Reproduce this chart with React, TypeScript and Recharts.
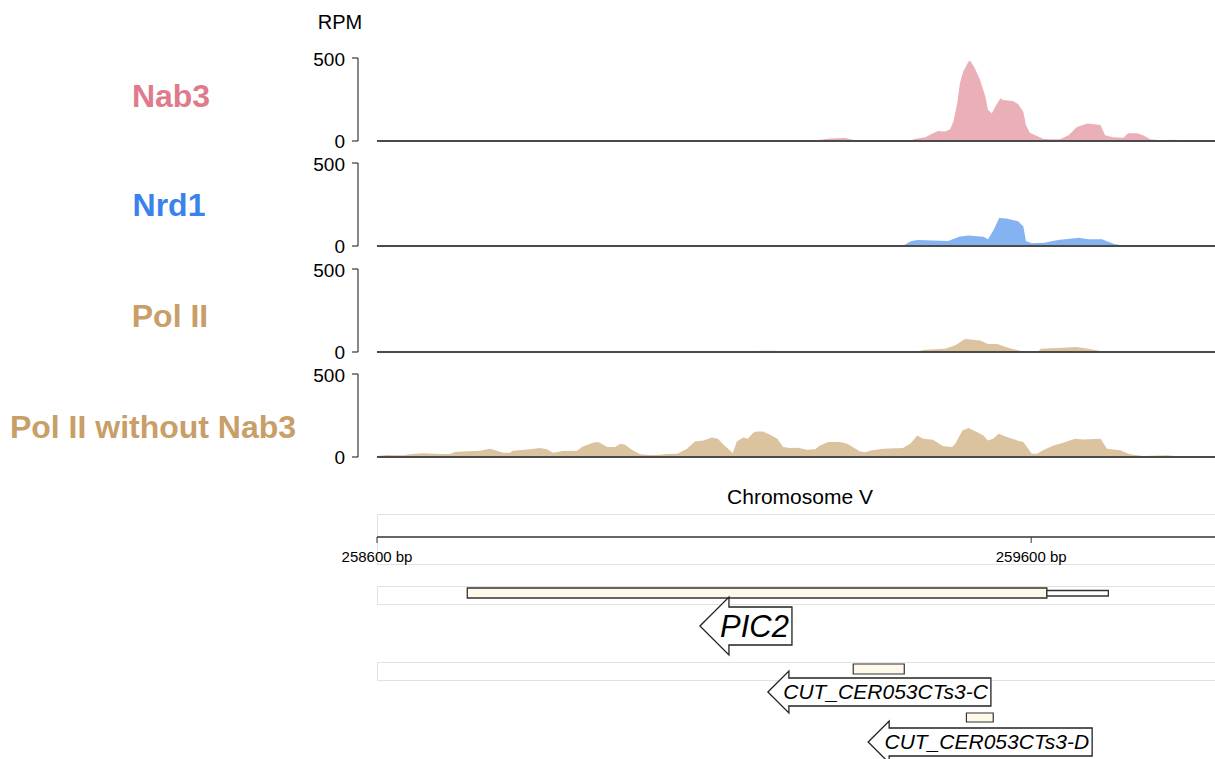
import React from "react";
import {
  AreaChart, Area, ComposedChart, XAxis, YAxis, ReferenceLine, ReferenceArea, ReferenceDot,
} from "recharts";

// genomic window (bp) and coverage tracks: [position, RPM]
const VIEW_START = 258600;
const VIEW_END = 259881;
const AXIS_PAD = 29; // bp of empty room between the y axis and the first base

const NAB3: [number, number][] = [
  [258600, 0], [259262, 0], [259293, 15], [259316, 18], [259331, 5], [259346, 0], [259415, 0],
  [259420, 10], [259438, 22], [259450, 46], [259458, 60], [259468, 57], [259476, 70], [259481, 116],
  [259487, 227], [259491, 347], [259496, 417], [259504, 477], [259507, 483], [259514, 437],
  [259522, 367], [259530, 267], [259534, 187], [259540, 167], [259545, 206], [259553, 257],
  [259557, 247], [259572, 241], [259580, 223], [259588, 176], [259592, 96], [259598, 50],
  [259609, 30], [259618, 14], [259629, 10], [259644, 10], [259657, 35], [259670, 84], [259686, 105],
  [259706, 96], [259713, 35], [259725, 22], [259741, 20], [259748, 46], [259762, 46], [259771, 35],
  [259782, 10], [259797, 5], [259817, 8], [259835, 5], [259881, 5],
];

const NRD1: [number, number][] = [
  [258600, 0], [259377, 0], [259384, 5], [259406, 6], [259417, 30], [259427, 36], [259473, 30],
  [259490, 56], [259504, 64], [259527, 56], [259534, 40], [259543, 100], [259551, 169],
  [259562, 165], [259580, 149], [259588, 119], [259592, 30], [259601, 16], [259620, 20],
  [259641, 36], [259673, 50], [259687, 40], [259708, 40], [259727, 12], [259741, 3], [259751, 0],
  [259828, 0], [259840, 3], [259852, 0], [259881, 0],
];

const POL2: [number, number][] = [
  [258600, 0], [259062, 0], [259079, 3], [259109, 3], [259115, 0], [259173, 0], [259186, 8],
  [259209, 8], [259216, 0], [259374, 0], [259384, 3], [259423, 3], [259438, 14], [259468, 20],
  [259484, 40], [259499, 78], [259522, 70], [259534, 48], [259548, 48], [259566, 24], [259586, 5],
  [259611, 5], [259615, 20], [259641, 24], [259669, 30], [259687, 20], [259704, 8], [259708, 0],
  [259881, 0],
];

const POL2_NO_NAB3: [number, number][] = [
  [258600, 6], [258615, 12], [258640, 10], [258650, 16], [258670, 22], [258696, 18], [258712, 18],
  [258719, 30], [258738, 34], [258757, 38], [258773, 50], [258783, 38], [258793, 26], [258803, 26],
  [258808, 38], [258834, 46], [258849, 54], [258860, 46], [258869, 26], [258884, 36], [258906, 38],
  [258913, 60], [258930, 86], [258938, 90], [258946, 74], [258952, 60], [258964, 60], [258972, 80],
  [258979, 74], [258991, 40], [259002, 16], [259017, 12], [259033, 14], [259043, 18], [259059, 20],
  [259074, 50], [259086, 94], [259099, 100], [259112, 118], [259121, 110], [259132, 66],
  [259144, 24], [259150, 94], [259160, 118], [259167, 110], [259175, 146], [259181, 154],
  [259190, 154], [259201, 134], [259212, 110], [259221, 60], [259231, 54], [259244, 56],
  [259257, 44], [259270, 46], [259277, 70], [259290, 90], [259308, 90], [259319, 80], [259338, 34],
  [259346, 28], [259357, 40], [259374, 50], [259404, 54], [259415, 80], [259426, 130], [259435, 110],
  [259450, 104], [259465, 66], [259479, 60], [259484, 80], [259495, 160], [259504, 174],
  [259517, 150], [259527, 130], [259534, 100], [259542, 110], [259550, 140], [259563, 120],
  [259579, 100], [259588, 90], [259601, 20], [259609, 20], [259618, 40], [259634, 70], [259649, 86],
  [259667, 110], [259680, 106], [259706, 110], [259716, 50], [259736, 40], [259751, 16],
  [259771, 6], [259808, 10], [259832, 2], [259881, 2],
];

const RPM_TICKS = [0, 500];
const BP_TICKS = [258600, 259600];

// gene models: [name, start, end]
const PIC2_CDS: [string, number, number] = ["PIC2", 258738, 259624];
const PIC2_UTR: [string, number, number] = ["PIC2", 259624, 259718];
const CUTS: [string, number, number][] = [
  ["CUT_CER053CTs3-C", 259328, 259406],
  ["CUT_CER053CTs3-D", 259501, 259542],
];
// where each gene's name tag sits along the chromosome
const TAG_AT: Record<string, number> = {
  PIC2: 259164,
  "CUT_CER053CTs3-C": 259368,
  "CUT_CER053CTs3-D": 259522,
};

const FONT = "'Liberation Sans', Arial, Helvetica, sans-serif";

const TRACKS = [
  { name: "Nab3", rows: NAB3, fill: "#ebb0b7", text: "#e07b8b", top: 58, labelX: 171, labelY: 96 },
  { name: "Nrd1", rows: NRD1, fill: "#85b3f1", text: "#3a82ec", top: 163, labelX: 169, labelY: 205 },
  { name: "Pol II", rows: POL2, fill: "#dcc3a0", text: "#c89e69", top: 269, labelX: 170, labelY: 316 },
  { name: "Pol II without Nab3", rows: POL2_NO_NAB3, fill: "#dcc3a0", text: "#c89e69", top: 374, labelX: 153, labelY: 427 },
];

const TAG_STYLE: Record<string, { width: number; head: number; boxH: number; headH: number; size: number; row: number }> = {
  PIC2: { width: 92, head: 29, boxH: 38, headH: 58, size: 31, row: 46 },
  "CUT_CER053CTs3-C": { width: 223, head: 21, boxH: 28, headH: 42, size: 21, row: 112 },
  "CUT_CER053CTs3-D": { width: 224, head: 21, boxH: 28, headH: 42, size: 21, row: 162 },
};

function GeneTag({ cx, cy, name }: { cx: number; cy: number; name: string }) {
  const s = TAG_STYLE[name];
  const tip = cx - s.width / 2;
  const right = cx + s.width / 2;
  const hx = tip + s.head;
  const pts = [
    [tip, cy], [hx, cy - s.headH / 2], [hx, cy - s.boxH / 2], [right, cy - s.boxH / 2],
    [right, cy + s.boxH / 2], [hx, cy + s.boxH / 2], [hx, cy + s.headH / 2],
  ].map((p) => p.join(",")).join(" ");
  return (
    <g>
      <polygon points={pts} fill="#fff" stroke="#222" strokeWidth={1.3} />
      <text x={right - 3} y={cy} dy="0.35em" textAnchor="end" fontStyle="italic"
        fontSize={s.size} fontFamily={FONT} fill="#000">{name}</text>
    </g>
  );
}

const frame = (top: number, height: number): React.CSSProperties => ({
  position: "absolute", left: 377, top, width: 850, height,
  border: "1px solid #e2e2e2", boxSizing: "border-box",
});

export default function App() {
  return (
    <div style={{ position: "absolute", left: 0, top: 0, width: 1215, height: 759, overflow: "hidden", background: "#fff", fontFamily: FONT }}>
      <div style={{ position: "absolute", left: 340, top: 22, transform: "translate(-50%,-50%)", fontSize: 20 }}>RPM</div>

      {TRACKS.map((t) => (
        <React.Fragment key={t.name}>
          <div style={{
            position: "absolute", left: t.labelX, top: t.labelY, transform: "translate(-50%,-50%)",
            fontSize: 32, fontWeight: 700, color: t.text, whiteSpace: "nowrap",
          }}>{t.name}</div>
          <div style={{ position: "absolute", left: 0, top: t.top - 10 }}>
            <AreaChart width={1215} height={105} data={t.rows.map(([pos, rpm]) => ({ pos, rpm }))}
              margin={{ top: 10, right: 0, bottom: 12, left: 300 }}>
              <XAxis dataKey="pos" type="number" domain={[VIEW_START - AXIS_PAD, VIEW_END]} hide allowDataOverflow />
              <YAxis type="number" domain={[0, 500]} ticks={RPM_TICKS} width={58} tickSize={6} tickMargin={7}
                axisLine={{ stroke: "#111" }} tickLine={{ stroke: "#111" }} allowDataOverflow
                tick={{ fontSize: 19, fill: "#000", fontFamily: FONT }} />
              <Area type="linear" dataKey="rpm" stroke="none" fill={t.fill} fillOpacity={1}
                isAnimationActive={false} dot={false} activeDot={false} />
              <ReferenceLine segment={[{ x: VIEW_START, y: 0 }, { x: VIEW_END, y: 0 }]} stroke="#4a4a4a" strokeWidth={2} />
            </AreaChart>
          </div>
        </React.Fragment>
      ))}

      <div style={{ position: "absolute", left: 800, top: 497, transform: "translate(-50%,-50%)", fontSize: 21 }}>Chromosome V</div>
      <div style={frame(514, 51)} />
      <div style={frame(586, 19)} />
      <div style={frame(662, 19)} />

      <div style={{ position: "absolute", left: 0, top: 514 }}>
        <ComposedChart width={1215} height={53} data={BP_TICKS.map((pos) => ({ pos }))}
          margin={{ top: 10, right: 0, bottom: 0, left: 377 }}>
          <XAxis dataKey="pos" type="number" domain={[VIEW_START, VIEW_END]} ticks={BP_TICKS} height={30}
            tickFormatter={(v: number) => `${v} bp`} tickSize={6} tickMargin={8} interval={0}
            axisLine={{ stroke: "#333", strokeWidth: 1.5 }} tickLine={{ stroke: "#333" }}
            tick={{ fontSize: 15, fill: "#000", fontFamily: FONT }} allowDataOverflow />
          <YAxis hide domain={[0, 1]} />
        </ComposedChart>
      </div>

      <div style={{ position: "absolute", left: 0, top: 580 }}>
        <ComposedChart width={1215} height={179} data={[PIC2_CDS, ...CUTS].map(([name, start]) => ({ name, pos: start }))}
          margin={{ top: 0, right: 0, bottom: 0, left: 377 }}>
          <XAxis dataKey="pos" type="number" domain={[VIEW_START, VIEW_END]} hide allowDataOverflow />
          <YAxis hide reversed type="number" domain={[0, 179]} allowDataOverflow />
          <ReferenceArea x1={PIC2_CDS[1]} x2={PIC2_CDS[2]} y1={8} y2={18} fill="#fff9e9" fillOpacity={1}
            stroke="#333" strokeWidth={1.3} ifOverflow="visible" />
          <ReferenceArea x1={PIC2_UTR[1]} x2={PIC2_UTR[2]} y1={10.5} y2={16} fill="#fff" fillOpacity={1}
            stroke="#333" strokeWidth={1.3} ifOverflow="visible" />
          <ReferenceArea x1={CUTS[0][1]} x2={CUTS[0][2]} y1={84} y2={94} fill="#fff9e9" fillOpacity={1}
            stroke="#333" strokeWidth={1.2} ifOverflow="visible" />
          <ReferenceArea x1={CUTS[1][1]} x2={CUTS[1][2]} y1={133} y2={142} fill="#fff9e9" fillOpacity={1}
            stroke="#333" strokeWidth={1.2} ifOverflow="visible" />
          {Object.keys(TAG_AT).map((name) => (
            <ReferenceDot key={name} x={TAG_AT[name]} y={TAG_STYLE[name].row} ifOverflow="visible"
              shape={(p: any) => <GeneTag cx={p.cx} cy={p.cy} name={name} />} />
          ))}
        </ComposedChart>
      </div>
    </div>
  );
}
